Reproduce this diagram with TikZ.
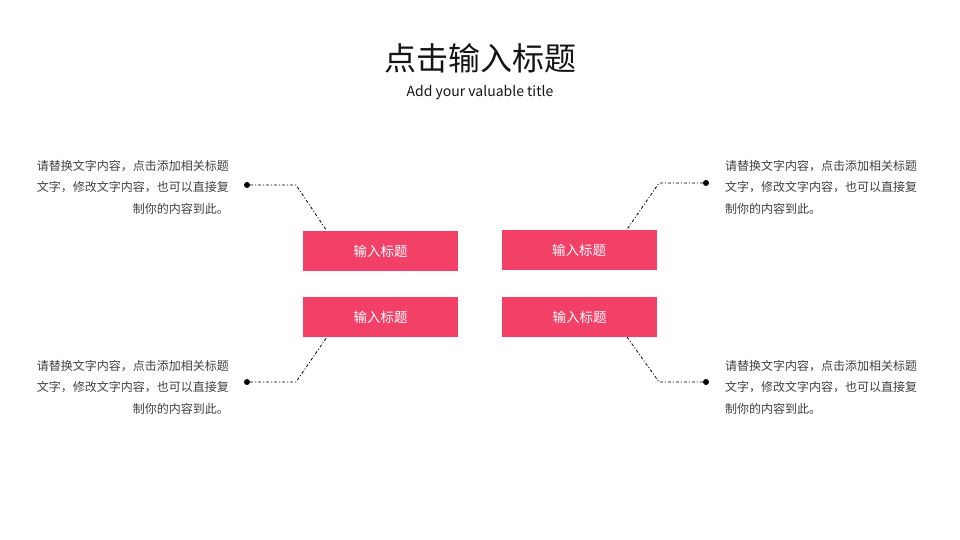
\documentclass[tikz,border=0pt]{standalone}
\usepackage{fontspec}
\setmainfont{Noto Sans CJK SC}
\usepackage{tikz}
\usetikzlibrary{positioning}

\definecolor{TitlePink}{RGB}{243,64,103}
\definecolor{BodyGray}{RGB}{64,64,64}
\definecolor{HeadBlack}{RGB}{20,20,20}

\tikzset{
  headbox/.style={rectangle, fill=TitlePink, minimum width=155pt, minimum height=40pt, inner sep=0pt, text=white, font=\fontsize{13.5}{16}\selectfont},
  bodytext/.style={inner sep=0pt, text=BodyGray, font=\fontsize{12}{21.5}\selectfont},
  link/.style={line width=0.8pt, black, dash pattern=on 3pt off 2pt on 1pt off 2pt},
  pin/.style={circle, fill=black, inner sep=0pt, minimum size=6pt}
}

\begin{document}
\begin{tikzpicture}[x=1pt, y=-1pt]
\useasboundingbox (0,0) rectangle (960,540);
\node[text=HeadBlack, font=\fontsize{32}{36}\selectfont] (title) at (480,58) {点击输入标题};
\node[text=HeadBlack, font=\fontsize{14}{16}\selectfont] (subtitle) at (480,93) {Add your valuable title};
\node[headbox] (b1) at (380.5,251) {输入标题};
\node[headbox] (b2) at (579,250) {输入标题};
\node[headbox] (b3) at (380.5,317) {输入标题};
\node[headbox] (b4) at (579.5,317) {输入标题};
\node[pin] (p1) at (247,185) {};
\node[pin] (p2) at (706,183) {};
\node[pin] (p3) at (247,382) {};
\node[pin] (p4) at (706,382) {};
\coordinate (k1) at (296,185);
\coordinate (k2) at (659,183);
\coordinate (k3) at (296,382);
\coordinate (k4) at (659,382);
\node[bodytext, align=right, anchor=east] (t1) at (229,187) {请替换文字内容，点击添加相关标题\\文字，修改文字内容，也可以直接复\\制你的内容到此。};
\node[bodytext, align=left, anchor=west] (t2) at (725,187) {请替换文字内容，点击添加相关标题\\文字，修改文字内容，也可以直接复\\制你的内容到此。};
\node[bodytext, align=right, anchor=east] (t3) at (229,387) {请替换文字内容，点击添加相关标题\\文字，修改文字内容，也可以直接复\\制你的内容到此。};
\node[bodytext, align=left, anchor=west] (t4) at (725,387) {请替换文字内容，点击添加相关标题\\文字，修改文字内容，也可以直接复\\制你的内容到此。};
\draw[link] (p1) -- (k1) -- ([xshift=24pt]b1.north west);
\draw[link] (p2) -- (k2) -- ([xshift=-30pt]b2.north east);
\draw[link] (p3) -- (k3) -- ([xshift=24pt]b3.south west);
\draw[link] (p4) -- (k4) -- ([xshift=-30pt]b4.south east);
\end{tikzpicture}
\end{document}
